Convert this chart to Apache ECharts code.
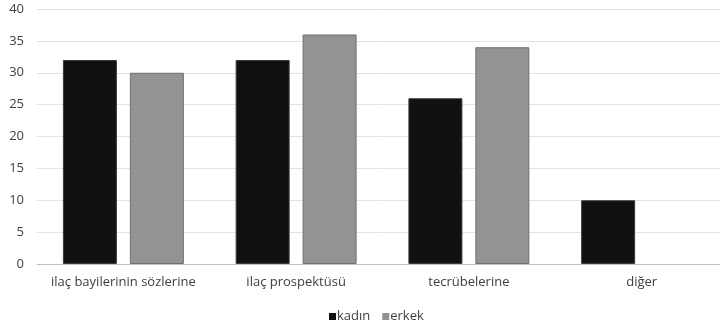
<!DOCTYPE html>
<html>
<head>
<meta charset="utf-8">
<script src="https://cdn.jsdelivr.net/npm/echarts@6/dist/echarts.min.js"></script>
<style>
  html, body { margin: 0; padding: 0; background: #fff; overflow: hidden; }
  #chart { width: 728px; height: 332px; }
</style>
</head>
<body>
<div id="chart"></div>
<script>
const categories = ['ilaç bayilerinin sözlerine', 'ilaç prospektüsü', 'tecrübelerine', 'diğer'];
const kadin = [32, 32, 26, 10];
const erkek = [30, 36, 34, 0];
const yTicks = [0, 5, 10, 15, 20, 25, 30, 35, 40];

const font = '"Open Sans", "Liberation Sans", sans-serif';
const chart = echarts.init(document.getElementById('chart'), null, { renderer: 'canvas' });

// zero-height bars get no outline
const withBorder = (arr) => arr.map(v => v === 0 ? { value: v, itemStyle: { borderWidth: 0 } } : v);

chart.setOption({
  animation: false,
  textStyle: { fontFamily: font },
  grid: { left: 37, right: 0, top: 9, bottom: 68, containLabel: false },
  legend: {
    bottom: 4,
    left: 324,
    itemWidth: 7,
    itemHeight: 7,
    itemGap: 12,
    icon: 'rect',
    itemStyle: { borderWidth: 0 },
    textStyle: { color: '#404040', fontSize: 13, fontFamily: font, padding: [0, 0, 0, -4] },
    data: ['kadın', 'erkek']
  },
  xAxis: {
    type: 'category',
    data: categories,
    axisTick: { show: false },
    axisLine: { lineStyle: { color: '#bfbfbf', width: 1 } },
    axisLabel: { color: '#404040', fontSize: 13, margin: 12, interval: 0, fontFamily: font }
  },
  yAxis: {
    type: 'value',
    min: yTicks[0],
    max: yTicks[yTicks.length - 1],
    interval: 5,
    axisLine: { show: false },
    axisTick: { show: false },
    axisLabel: { color: '#404040', fontSize: 13, margin: 13, fontFamily: font },
    splitLine: { lineStyle: { color: '#e3e3e3', width: 1 } }
  },
  series: [
    {
      name: 'kadın',
      type: 'bar',
      data: withBorder(kadin),
      barWidth: 54,
      barGap: '24%',
      itemStyle: { color: '#111111', borderColor: '#3a3a3a', borderWidth: 1 }
    },
    {
      name: 'erkek',
      type: 'bar',
      data: withBorder(erkek),
      barWidth: 54,
      itemStyle: { color: '#939393', borderColor: '#6f6f6f', borderWidth: 1 }
    }
  ]
});
</script>
</body>
</html>
